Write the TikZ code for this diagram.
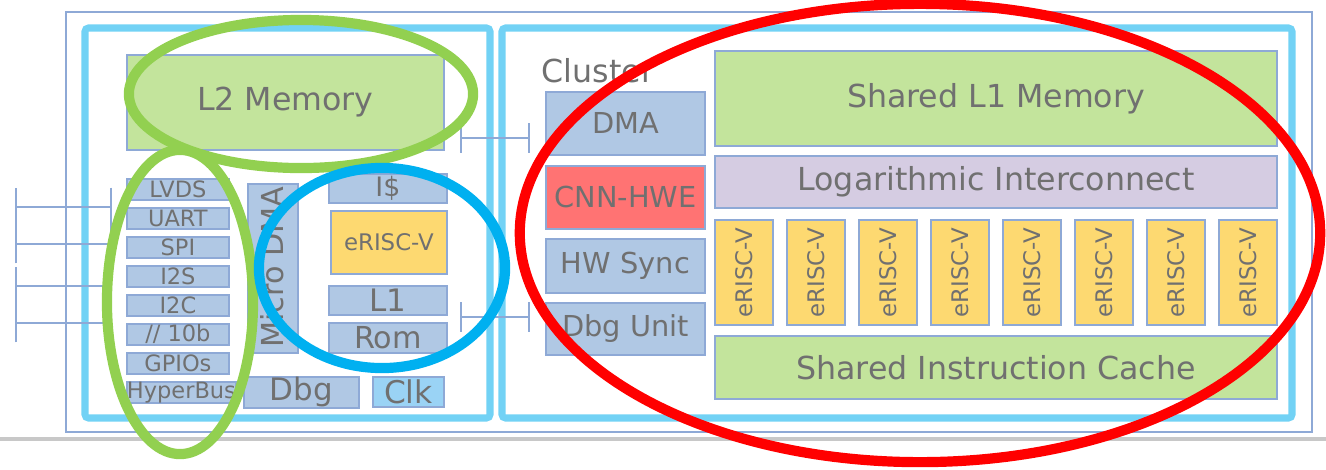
\documentclass[tikz,border=0pt]{standalone}
\usepackage{fontspec}
\setmainfont{DejaVu Sans}
\usepackage{tikz}
\usetikzlibrary{arrows.meta}
\definecolor{azulclaro}{HTML}{72D2F5}
\definecolor{azulcaixa}{HTML}{B0C8E4}
\definecolor{azulborda}{HTML}{8EA9D6}
\definecolor{azulclk}{HTML}{9AD3F5}
\definecolor{verdecaixa}{HTML}{C3E49C}
\definecolor{amarelo}{HTML}{FDD971}
\definecolor{lilas}{HTML}{D5CCE2}
\definecolor{salmao}{HTML}{FF7373}
\definecolor{cinzatxt}{HTML}{707070}
\definecolor{cinzalinha}{HTML}{C8C8C8}
\definecolor{verdeelip}{HTML}{92D050}
\definecolor{azulelip}{HTML}{00B0F0}

\begin{document}
\begin{tikzpicture}[x=0.01cm, y=-0.01cm,
  blk/.style={draw=azulborda, line width=0.5pt, fill=azulcaixa, inner sep=0pt,
    anchor=north west, text=cinzatxt},
  mem/.style={blk, fill=verdecaixa},
  core/.style={blk, fill=amarelo},
  frame/.style={draw=azulclaro, line width=2pt, rounded corners=1pt},
  link/.style={draw=azulborda, line width=0.6pt},
  ring/.style={line width=2.9pt},
  fsmall/.style={font=\fontsize{6.4}{7}\selectfont},
  fmid/.style={font=\fontsize{8.2}{9}\selectfont},
  fbig/.style={font=\fontsize{9}{11}\selectfont}]
\useasboundingbox (0,0) rectangle (1326,469);
\draw[cinzalinha, line width=1.1pt] (0,439) -- (1326,439);
\draw[azulborda, line width=0.5pt] (66,12) rectangle (1312,432);
\draw[frame] (85,28) rectangle (490,418);
\draw[frame] (502,28) rectangle (1292,418);

\node[mem, fbig, minimum width=3.17cm, minimum height=0.95cm] (l2) at (126,54) {L2 Memory};
\foreach \t [count=\i] in {LVDS,UART,SPI,I2S,I2C,// 10b,GPIOs,HyperBus}{
  \node[blk, fsmall, minimum width=1.02cm, minimum height=0.21cm] (per\i) at (126,{178+(\i-1)*29}) {\t};
}
\node[blk, minimum width=0.5cm, minimum height=1.69cm] (udma) at (247,183) {};
\node[text=cinzatxt, rotate=90, font=\fontsize{8.6}{10}\selectfont] (udmat) at (272,267) {Micro DMA};
\node[blk, font=\fontsize{7.6}{9}\selectfont, minimum width=1.18cm, minimum height=0.29cm] (icache) at (328,173) {I\$};
\node[core, font=\fontsize{6.5}{8}\selectfont, minimum width=1.16cm, minimum height=0.63cm] (fc) at (330,210) {eRISC-V};
\node[blk, font=\fontsize{8.8}{10}\selectfont, minimum width=1.18cm, minimum height=0.29cm] (l1) at (328,285) {L1};
\node[blk, font=\fontsize{8.6}{10}\selectfont, minimum width=1.18cm, minimum height=0.30cm] (rom) at (328,322) {Rom};
\node[blk, font=\fontsize{8.8}{10}\selectfont, minimum width=1.15cm, minimum height=0.31cm] (dbg) at (243,376) {Dbg};
\node[blk, fill=azulclk, font=\fontsize{8.9}{10}\selectfont, minimum width=0.71cm, minimum height=0.30cm] (clk) at (372,376) {Clk};

\node[text=cinzatxt, inner sep=0pt, anchor=base west, fbig] (clabel) at (541,82) {Cluster};
\node[blk, fmid, minimum width=1.59cm, minimum height=0.63cm] (dma) at (545,91) {DMA};
\node[blk, fill=salmao, fmid, minimum width=1.59cm, minimum height=0.63cm] (hwe) at (545,165) {CNN-HWE};
\node[blk, fmid, minimum width=1.59cm, minimum height=0.54cm] (sync) at (545,238) {HW Sync};
\node[blk, fmid, minimum width=1.59cm, minimum height=0.52cm] (dbgu) at (545,302) {Dbg Unit};
\node[mem, fbig, minimum width=5.62cm, minimum height=0.95cm] (tcdm) at (714,50) {Shared L1 Memory};
\node[blk, fill=lilas, fbig, minimum width=5.62cm, minimum height=0.52cm] (ic) at (714,155) {Logarithmic Interconnect};
\foreach \i in {1,...,8}{
  \node[core, minimum width=0.58cm, minimum height=1.05cm] (pe\i) at ({714+(\i-1)*72},219) {};
  \node[text=cinzatxt, rotate=90, font=\fontsize{6.5}{8}\selectfont] (pet\i) at (pe\i.center) {eRISC-V};
}
\node[mem, fbig, minimum width=5.62cm, minimum height=0.63cm] (icc) at (714,335) {Shared Instruction Cache};

\foreach \y [count=\i] in {207,244,286,323}{
  \coordinate (iow\i) at (15,\y);
  \coordinate (ioe\i) at (112,\y);
  \draw[link, {Bar[width=11pt]}-{Bar[width=11pt]}] (iow\i) -- (ioe\i);
}
\coordinate (axiw) at (460,138);
\coordinate (axie) at (530,138);
\coordinate (dbgw) at (460,317);
\coordinate (dbge) at (530,317);
\draw[link, {Bar[width=8.5pt]}-{Bar[width=8.5pt]}] (axiw) -- (axie);
\draw[link, {Bar[width=8.5pt]}-{Bar[width=8.5pt]}] (dbgw) -- (dbge);

\draw[ring, verdeelip] (301,94) ellipse [x radius=1.72cm, y radius=0.74cm];
\draw[ring, verdeelip] (180,302) ellipse [x radius=0.73cm, y radius=1.52cm];
\draw[ring, azulelip] (382,268) ellipse [x radius=1.23cm, y radius=1.0cm];
\draw[ring, red] (920,233) ellipse [x radius=4.0cm, y radius=2.29cm];
\end{tikzpicture}
\end{document}
